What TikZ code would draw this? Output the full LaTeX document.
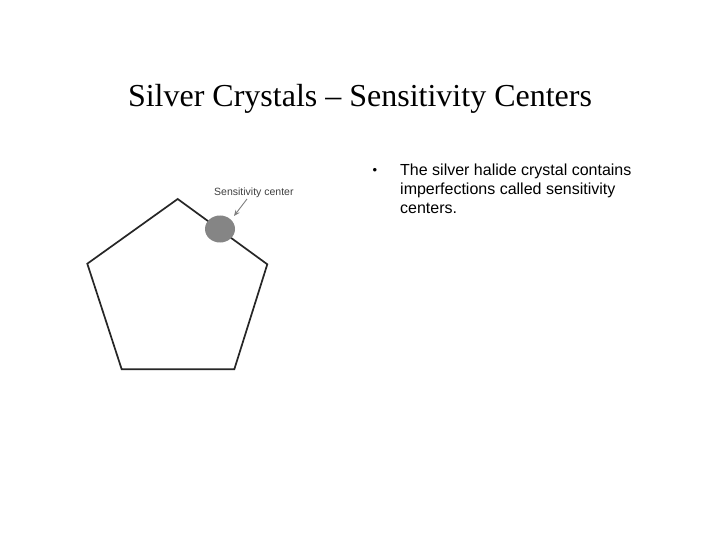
\documentclass[tikz,border=0pt]{standalone}
\usepackage{fontspec}
\usetikzlibrary{shapes.geometric,arrows.meta}
\setmainfont{Liberation Serif}
\newfontfamily\arialf{Liberation Sans}
\begin{document}
\begin{tikzpicture}[x=1pt,y=-1pt,
  edge/.style={draw=black!85,line width=1.7pt,line join=miter},
  lbl/.style={font=\arialf\fontsize{10.5}{12}\selectfont,text=black!75,inner sep=0pt},
  body/.style={font=\arialf\fontsize{16}{19}\selectfont,inner sep=0pt,align=left},
  ptr/.style={draw=black!50,line width=0.9pt,-{Stealth[length=6pt,width=5pt]}}]
\useasboundingbox[fill=white] (0,0) rectangle (720,540);
\node[font=\fontsize{32}{36}\selectfont,inner sep=0pt] (title) at (360,99) {Silver Crystals -- Sensitivity Centers};
\coordinate (v1) at (177.7,199);
\coordinate (v2) at (267.3,264.3);
\coordinate (v3) at (234.3,369.3);
\coordinate (v4) at (121.7,369.3);
\coordinate (v5) at (87.3,263.7);
\draw[edge] (v1) -- (v2) -- (v3) -- (v4) -- (v5) -- cycle;
\node[ellipse,fill=black!48,minimum width=30pt,minimum height=27pt,inner sep=0pt] (dot) at (220,229) {};
\node[lbl,anchor=west] (sc) at (214,192.5) {Sensitivity center};
\coordinate (tipend) at (234,216);
\coordinate (tailend) at (247,199);
\draw[ptr] (tailend) -- (tipend);
\node[font=\arialf\fontsize{13}{19}\selectfont,inner sep=0pt] (bul) at (375,171) {•};
\node[body,anchor=north west] (txt) at (400,164) {The silver halide crystal contains\\imperfections called sensitivity\\centers.};
\end{tikzpicture}
\end{document}
